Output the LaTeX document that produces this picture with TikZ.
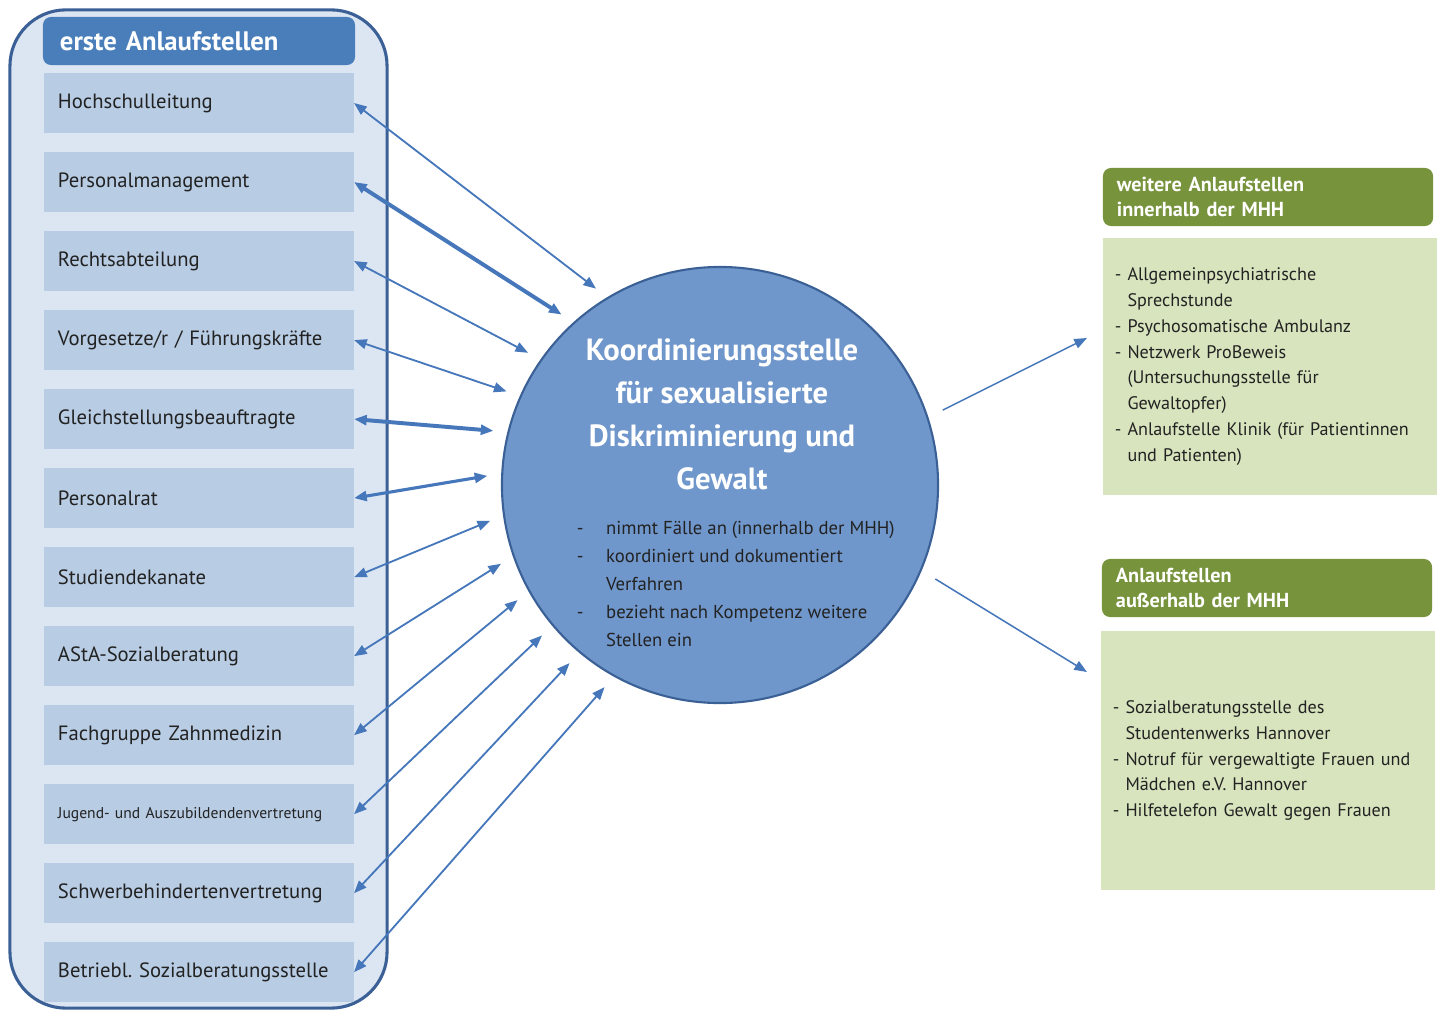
\documentclass[tikz,border=0pt]{standalone}
\usepackage{fontspec}
\setmainfont{PT Sans}
\usetikzlibrary{shapes,arrows.meta}
\usetikzlibrary{shapes.geometric,positioning}

\definecolor{framefill}{HTML}{DCE6F2}
\definecolor{darkblue}{HTML}{3A6096}
\definecolor{headblue}{HTML}{4A7EBB}
\definecolor{itemblue}{HTML}{B8CCE4}
\definecolor{circblue}{HTML}{7097CB}
\definecolor{arrowblue}{HTML}{4577BA}
\definecolor{headgreen}{HTML}{77933C}
\definecolor{bodygreen}{HTML}{D7E4BD}
\definecolor{textgray}{HTML}{222222}

\tikzset{
  frame/.style={rectangle, rounded corners=1.4cm, fill=framefill, draw=darkblue, line width=2.2pt, minimum width=9.425cm, minimum height=24.95cm},
  bluehead/.style={rectangle, rounded corners=0.2cm, fill=headblue, text=white, font=\fontsize{19}{22}\selectfont\bfseries, text width=6.95cm, inner xsep=0.425cm, minimum height=1.2cm, align=left, outer sep=0pt},
  item/.style={rectangle, fill=itemblue, text=textgray, text width=7.05cm, inner xsep=0.35cm, minimum height=1.5cm, align=left, outer sep=0pt, font=\fontsize{14.7}{17}\selectfont},
  centre/.style={circle, fill=circblue, draw=darkblue, line width=1.5pt, minimum size=10.9cm},
  greenhead/.style={rectangle, rounded corners=0.2cm, fill=headgreen, text=white, font=\fontsize{14.4}{17.7}\selectfont\bfseries, text width=7.55cm, inner xsep=0.35cm, minimum height=1.45cm, align=left, outer sep=0pt},
  greenbody/.style={rectangle, fill=bodygreen, text=textgray, font=\fontsize{12.9}{18.4}\selectfont, text width=7.75cm, inner xsep=0.3cm, minimum width=8.35cm, align=left, outer sep=0pt},
  biarrow/.style={{Triangle[length=9pt,width=7pt]}-{Triangle[length=9pt,width=7pt]}, draw=arrowblue, line width=1.3pt, shorten >=0.35cm},
  thickarrow/.style={biarrow, line width=2.8pt},
  outarrow/.style={-{Triangle[length=9pt,width=7pt]}, draw=arrowblue, line width=1.1pt, shorten <=0.4cm}
}

\begin{document}
\begin{tikzpicture}[x=0.025cm, y=-0.025cm, node distance=0.475cm]
  \useasboundingbox (0,0) rectangle (1443,1011);

  % linke Spalte
  \node[frame] (frame) at (198.5,509) {};
  \node[bluehead] (head) at (199,41) {erste Anlaufstellen};
  \node[item, below=0.2cm of head.south, anchor=north] (i1) {Hochschulleitung};
  \node[item, below=of i1] (i2) {Personalmanagement};
  \node[item, below=of i2] (i3) {Rechtsabteilung};
  \node[item, below=of i3] (i4) {Vorgesetze/r / Führungskräfte};
  \node[item, below=of i4] (i5) {Gleichstellungsbeauftragte};
  \node[item, below=of i5] (i6) {Personalrat};
  \node[item, below=of i6] (i7) {Studiendekanate};
  \node[item, below=of i7] (i8) {AStA-Sozialberatung};
  \node[item, below=of i8] (i9) {Fachgruppe Zahnmedizin};
  \node[item, below=of i9, font=\fontsize{11.1}{13}\selectfont] (i10) {Jugend- und Auszubildendenvertretung};
  \node[item, below=of i10] (i11) {Schwerbehindertenvertretung};
  \node[item, below=of i11] (i12) {Betriebl.\ Sozialberatungsstelle};

  % Kreis
  \node[centre] (circ) at (720,485) {};
  \node[text=white, font=\fontsize{21.8}{30.5}\selectfont\bfseries, align=center] (ctitle) at (722,414)
    {Koordinierungsstelle\\für sexualisierte\\Diskriminierung und\\Gewalt};
  \node[text=textgray, font=\fontsize{13.3}{19.9}\selectfont, align=left, anchor=west] (ctext) at (572,583.5)
    {\makebox[0.73cm][l]{-}nimmt Fälle an (innerhalb der MHH)\\
     \makebox[0.73cm][l]{-}koordiniert und dokumentiert\\
     \hspace*{0.73cm}Verfahren\\
     \makebox[0.73cm][l]{-}bezieht nach Kompetenz weitere\\
     \hspace*{0.73cm}Stellen ein};

  % rechte Spalte
  \node[greenhead] (g1) at (1268,197) {weitere Anlaufstellen\\innerhalb der MHH};
  \node[greenbody, minimum height=6.425cm] (b1) at (1270,366.5)
    {- Allgemeinpsychiatrische\\\hphantom{- }Sprechstunde\\- Psychosomatische Ambulanz\\- Netzwerk ProBeweis\\\hphantom{- }(Untersuchungsstelle für\\\hphantom{- }Gewaltopfer)\\- Anlaufstelle Klinik (für Patientinnen\\\hphantom{- }und Patienten)};
  \node[greenhead] (g2) at (1267,588) {Anlaufstellen\\außerhalb der MHH};
  \node[greenbody, minimum height=6.475cm] (b2) at (1268,760.5)
    {- Sozialberatungsstelle des\\\hphantom{- }Studentenwerks Hannover\\- Notruf für vergewaltigte Frauen und\\\hphantom{- }Mädchen e.V. Hannover\\- Hilfetelefon Gewalt gegen Frauen};
  \coordinate (t1) at (1087,338);
  \coordinate (t2) at (1087,672);

  % Pfeile
  \draw[biarrow] (i1.east) -- (circ.121);
  \draw[thickarrow] (i2.east) -- (circ.132);
  \draw[biarrow] (i3.east) -- (circ.145);
  \draw[biarrow] (i4.east) -- (circ.156);
  \draw[thickarrow] (i5.east) -- (circ.166);
  \draw[thickarrow, line width=2.2pt] (i6.east) -- (circ.177);
  \draw[biarrow] (i7.east) -- (circ.188);
  \draw[biarrow] (i8.east) -- (circ.199);
  \draw[biarrow] (i9.east) -- (circ.209);
  \draw[biarrow] (i10.east) -- (circ.220);
  \draw[biarrow] (i11.east) -- (circ.230);
  \draw[biarrow] (i12.east) -- (circ.241);
  \draw[outarrow] (circ.18) -- (t1);
  \draw[outarrow] (circ.337) -- (t2);
\end{tikzpicture}
\end{document}
